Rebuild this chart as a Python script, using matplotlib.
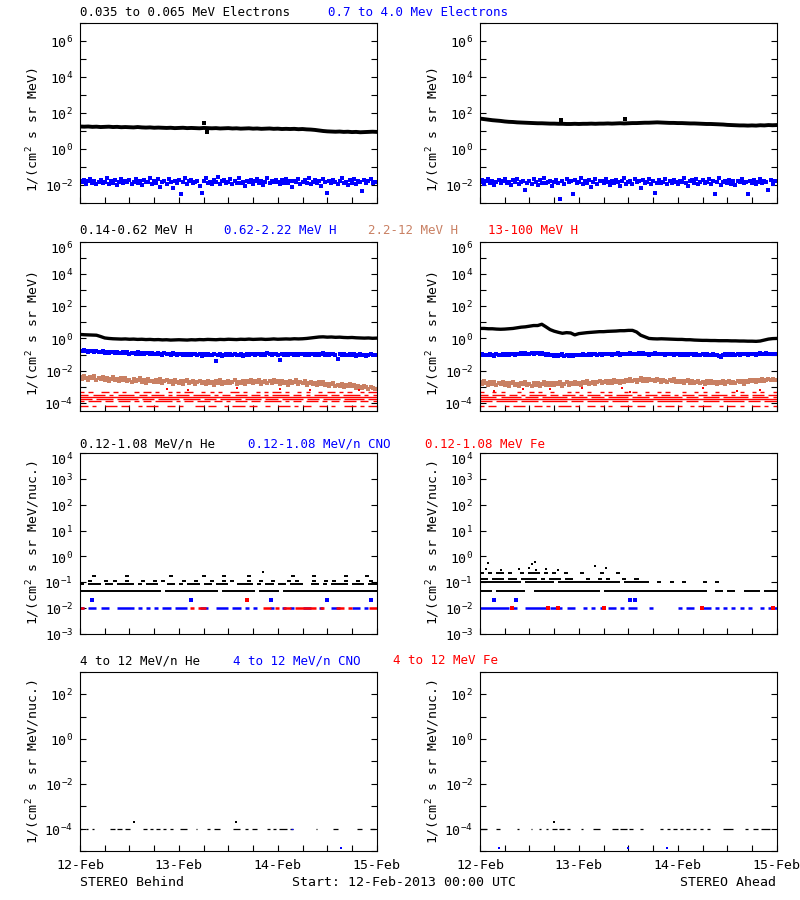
import numpy as np
import matplotlib
matplotlib.use("Agg")
import matplotlib.pyplot as plt
from matplotlib.ticker import FixedLocator, NullFormatter, NullLocator
from matplotlib.transforms import blended_transform_factory, offset_copy

# ── data (time in hours from 12-Feb-2013 00:00, fluxes as log10) ─────────────

DAY_LABELS = ["12-Feb", "13-Feb", "14-Feb", "15-Feb"]

# row 1: electrons, hourly low-energy line
B_ELO = [1.25, 1.24, 1.25, 1.23, 1.24, 1.22, 1.23, 1.24, 1.22, 1.23, 1.21, 1.22, 1.21, 1.20, 1.22,
         1.20, 1.19, 1.20, 1.18, 1.19, 1.18, 1.17, 1.18, 1.16, 1.17, 1.18, 1.16, 1.17, 1.16, 1.15,
         1.17, 1.16, 1.15, 1.16, 1.14, 1.15, 1.16, 1.14, 1.15, 1.13, 1.14, 1.15, 1.13, 1.14, 1.12,
         1.13, 1.14, 1.12, 1.13, 1.11, 1.12, 1.11, 1.12, 1.10, 1.11, 1.09, 1.08, 1.06, 1.03, 1.00,
         0.98, 0.97, 0.96, 0.97, 0.95, 0.96, 0.94, 0.95, 0.93, 0.94, 0.95, 0.96, 0.95]
A_ELO = [1.69, 1.66, 1.63, 1.60, 1.58, 1.56, 1.53, 1.51, 1.50, 1.48, 1.47, 1.46, 1.45, 1.44, 1.43,
         1.43, 1.42, 1.41, 1.41, 1.40, 1.40, 1.39, 1.39, 1.40, 1.39, 1.40, 1.40, 1.41, 1.40, 1.41,
         1.41, 1.42, 1.41, 1.42, 1.43, 1.42, 1.43, 1.44, 1.44, 1.45, 1.46, 1.46, 1.47, 1.48, 1.47,
         1.46, 1.45, 1.45, 1.44, 1.44, 1.43, 1.42, 1.42, 1.41, 1.40, 1.39, 1.39, 1.38, 1.37, 1.36,
         1.34, 1.33, 1.32, 1.31, 1.31, 1.30, 1.31, 1.30, 1.32, 1.31, 1.33, 1.32, 1.33]
B_ELO_SPIKES = [(30.1, 1.44), (30.7, 0.95)]
A_ELO_SPIKES = [(19.7, 1.59), (35.2, 1.67)]

# row 1: high-energy electrons, half-hourly samples
B_EHI = [-1.78, -1.86, -1.71, -1.92, -1.80, -1.66, -1.88, -1.75, -1.97, -1.82, -1.70, -1.90,
         -1.84, -1.62, -1.93, -1.79, -1.87, -1.73, -2.02, -1.81, -1.68, -1.91, -1.77, -1.85,
         -1.74, -1.95, -1.83, -1.64, -1.89, -1.79, -1.99, -1.72, -1.86, -1.81, -1.60, -1.94,
         -1.80, -1.88, -1.69, -2.10, -1.83, -1.76, -1.92, -1.67, -1.85, -2.18, -1.78, -1.90,
         -1.73, -2.48, -1.86, -1.61, -1.95, -1.80, -1.70, -1.91, -1.84, -1.75, -2.05, -2.44,
         -1.79, -1.63, -1.88, -1.82, -1.97, -1.71, -1.86, -1.58, -1.92, -1.80, -1.74, -1.89,
         -1.83, -1.69, -1.96, -1.78, -1.87, -1.62, -1.90, -1.81, -2.08, -1.75, -1.85, -1.72,
         -1.93, -1.80, -1.66, -1.88, -1.77, -1.99, -1.84, -1.59, -1.91, -1.79, -1.86, -1.70,
         -1.82, -1.95, -1.73, -1.87, -1.64, -1.90, -1.80, -2.12, -1.76, -1.85, -1.68, -1.93,
         -1.81, -1.72, -1.89, -1.60, -1.96, -1.83, -1.74, -1.88, -1.79, -2.03, -1.67, -1.86,
         -2.46, -1.78, -1.91, -1.70, -1.84, -1.97, -1.76, -1.63, -1.89, -1.82, -2.00, -1.74,
         -1.87, -1.69, -1.93, -1.80, -1.85, -2.36, -1.72, -1.90, -1.78, -1.64, -1.88, -1.81]
A_EHI = [-1.85, -1.72, -1.93, -1.80, -1.66, -1.89, -1.77, -1.98, -1.83, -1.70, -1.91, -1.79,
         -1.64, -1.88, -1.81, -2.00, -1.74, -1.86, -1.69, -1.94, -1.82, -1.76, -2.30, -1.87,
         -1.78, -1.92, -1.67, -1.84, -1.99, -1.73, -1.88, -1.60, -1.90, -1.81, -1.75, -2.06,
         -1.83, -1.70, -1.89, -2.78, -1.79, -1.95, -1.68, -1.86, -1.80, -2.48, -1.72, -1.91,
         -1.85, -1.63, -1.97, -1.78, -1.87, -1.74, -2.10, -1.82, -1.69, -1.93, -1.80, -1.76,
         -1.90, -1.65, -1.84, -1.99, -1.77, -1.88, -1.71, -1.83, -2.04, -1.79, -1.62, -1.92,
         -1.81, -1.75, -1.94, -1.68, -1.86, -1.80, -2.15, -1.73, -1.89, -1.84, -1.66, -1.95,
         -1.79, -2.42, -1.87, -1.72, -1.91, -1.82, -1.64, -1.97, -1.78, -1.88, -1.70, -1.85,
         -1.93, -1.76, -1.83, -1.61, -1.90, -2.08, -1.80, -1.74, -1.87, -1.69, -1.95, -1.81,
         -1.72, -1.89, -1.84, -1.67, -1.92, -1.79, -2.50, -1.86, -1.62, -1.98, -1.82, -1.75,
         -1.88, -1.71, -1.94, -1.80, -2.02, -1.76, -1.85, -1.66, -1.91, -1.83, -2.49, -1.78,
         -1.87, -1.70, -1.93, -1.81, -1.64, -1.90, -1.77, -1.86, -2.28, -1.73, -1.95, -1.80]

# row 2: protons, hourly 0.14-0.62 MeV line
B_H1 = [0.25, 0.23, 0.22, 0.21, 0.20, 0.12, 0.03, 0.00, -0.02, -0.03, -0.04, -0.03, -0.05, -0.04,
        -0.06, -0.05, -0.07, -0.06, -0.08, -0.07, -0.09, -0.08, -0.10, -0.09, -0.08, -0.09, -0.10,
        -0.08, -0.09, -0.07, -0.08, -0.06, -0.07, -0.08, -0.06, -0.07, -0.05, -0.06, -0.07, -0.05,
        -0.06, -0.04, -0.06, -0.05, -0.04, -0.06, -0.05, -0.03, -0.05, -0.04, -0.03, -0.04, -0.02,
        -0.03, -0.02, 0.00, 0.03, 0.06, 0.09, 0.10, 0.08, 0.09, 0.07, 0.08, 0.06, 0.05, 0.06, 0.04,
        0.03, 0.02, 0.03, 0.01, 0.02]
A_H1 = [0.62, 0.62, 0.60, 0.60, 0.58, 0.57, 0.58, 0.60, 0.62, 0.66, 0.70, 0.72, 0.76, 0.80, 0.80,
        0.88, 0.72, 0.55, 0.45, 0.38, 0.32, 0.36, 0.34, 0.22, 0.30, 0.33, 0.36, 0.38, 0.40, 0.42,
        0.42, 0.44, 0.45, 0.46, 0.48, 0.48, 0.50, 0.50, 0.40, 0.20, 0.10, 0.00, -0.02, -0.03, -0.02,
        -0.03, -0.04, -0.05, -0.06, -0.06, -0.08, -0.08, -0.10, -0.11, -0.12, -0.12, -0.13, -0.13,
        -0.14, -0.14, -0.14, -0.15, -0.15, -0.16, -0.16, -0.17, -0.17, -0.18, -0.16, -0.10, -0.04,
        -0.01, 0.00]

# row 2: 0.62-2.22 MeV H, half-hourly
B_H2 = [-0.76, -0.80, -0.73, -0.78, -0.82, -0.75, -0.79, -0.84, -0.77, -0.81, -0.86, -0.80,
        -0.88, -0.83, -0.91, -0.86, -0.82, -0.90, -0.85, -0.93, -0.88, -0.84, -0.91, -0.87,
        -0.95, -0.89, -0.92, -0.98, -0.87, -0.94, -0.90, -0.97, -0.93, -0.88, -0.96, -0.92,
        -0.99, -0.94, -0.91, -0.97, -1.02, -0.93, -0.98, -0.95, -1.01, -0.92, -0.97, -1.04,
        -0.96, -0.99, -1.03, -0.94, -1.00, -0.97, -1.05, -0.98, -0.95, -1.02, -0.99, -1.06,
        -0.97, -1.01, -0.95, -1.04, -1.00, -0.98, -1.42, -1.03, -0.96, -1.07, -1.00, -0.97,
        -1.02, -0.99, -1.05, -0.96, -1.01, -1.04, -0.98, -1.06, -1.00, -0.95, -1.03, -0.99,
        -0.96, -1.01, -0.94, -0.99, -1.03, -0.97, -1.00, -0.93, -0.98, -1.02, -0.95, -0.99,
        -1.04, -1.31, -0.97, -1.00, -0.94, -1.02, -0.98, -0.95, -1.01, -0.96, -1.03, -0.99,
        -0.95, -1.00, -0.97, -1.03, -0.94, -0.99, -1.01, -0.96, -1.04, -0.98, -0.93, -1.00,
        -0.97, -1.02, -0.99, -0.95, -1.03, -1.25, -0.98, -1.01, -0.96, -1.04, -1.00, -0.97,
        -1.03, -0.99, -1.06, -1.01, -0.97, -1.04, -1.00, -1.07, -1.02, -0.98, -1.05, -1.01]
A_H2 = [-1.02, -0.98, -1.05, -1.00, -1.04, -0.97, -1.03, -1.07, -0.99, -1.02, -1.05, -0.98,
        -1.01, -0.96, -1.03, -0.99, -0.94, -1.00, -0.95, -0.98, -0.92, -0.97, -0.93, -0.99,
        -0.94, -0.90, -0.96, -0.88, -0.93, -0.97, -0.91, -0.99, -1.02, -0.96, -1.04, -1.00,
        -1.06, -1.01, -1.08, -1.03, -0.99, -1.07, -1.04, -1.10, -1.02, -1.06, -1.00, -1.05,
        -1.01, -1.04, -0.98, -1.03, -1.00, -0.96, -1.02, -0.99, -0.95, -1.01, -0.97, -1.00,
        -0.96, -0.99, -0.94, -0.98, -1.01, -0.95, -0.97, -0.93, -1.00, -0.96, -0.94, -0.98,
        -0.95, -0.91, -0.97, -0.94, -0.99, -0.93, -0.96, -0.92, -0.98, -0.95, -1.00, -0.94,
        -0.97, -0.93, -0.99, -0.95, -0.98, -0.94, -1.00, -0.96, -0.99, -0.95, -1.01, -0.97,
        -0.98, -1.02, -0.96, -1.00, -0.97, -1.03, -0.99, -0.95, -1.01, -0.98, -1.04, -1.00,
        -0.97, -1.02, -0.99, -1.05, -1.01, -0.98, -1.03, -1.00, -1.06, -1.18, -1.02, -0.99,
        -1.03, -0.98, -1.01, -0.96, -1.00, -0.97, -1.02, -0.95, -0.99, -0.96, -1.00, -0.94,
        -0.98, -0.95, -1.00, -0.96, -0.93, -0.99, -0.95, -0.92, -0.97, -0.94, -0.98, -0.95]

# row 2: 2.2-12 MeV H, half-hourly
B_H3 = [-2.38, -2.50, -2.33, -2.46, -2.55, -2.40, -2.48, -2.36, -2.58, -2.44, -2.52, -2.39,
        -2.57, -2.45, -2.62, -2.49, -2.41, -2.60, -2.52, -2.67, -2.47, -2.56, -2.43, -2.63,
        -2.55, -2.70, -2.51, -2.64, -2.58, -2.46, -2.68, -2.59, -2.74, -2.53, -2.66, -2.61,
        -2.72, -2.57, -2.69, -2.50, -2.76, -2.63, -2.58, -2.71, -2.65, -2.80, -2.60, -2.68,
        -2.75, -2.62, -2.82, -2.67, -2.58, -2.78, -2.70, -2.64, -2.85, -2.72, -2.61, -2.79,
        -2.68, -2.83, -2.63, -2.76, -2.71, -2.87, -2.66, -2.74, -2.59, -2.81, -2.69, -2.77,
        -2.64, -2.79, -2.72, -2.60, -2.84, -2.70, -2.75, -2.62, -2.80, -2.67, -2.73, -2.58,
        -2.78, -2.65, -2.71, -2.56, -2.82, -2.68, -2.61, -2.75, -2.66, -2.79, -2.59, -2.72,
        -2.67, -2.81, -2.63, -2.74, -2.70, -2.86, -2.65, -2.77, -2.72, -2.60, -2.83, -2.71,
        -2.79, -2.66, -2.88, -2.74, -2.69, -2.85, -2.76, -2.91, -2.73, -2.82, -2.70, -2.87,
        -2.80, -2.95, -2.84, -2.77, -2.98, -2.86, -2.92, -2.81, -3.01, -2.89, -2.95, -2.84,
        -2.97, -2.90, -3.05, -2.93, -2.99, -3.10, -2.96, -3.04, -3.12, -3.00, -3.08, -3.14]
A_H3 = [-2.70, -2.82, -2.66, -2.77, -2.86, -2.72, -2.80, -2.68, -2.89, -2.75, -2.83, -2.71,
        -2.87, -2.74, -2.92, -2.79, -2.69, -2.88, -2.81, -2.95, -2.76, -2.85, -2.72, -2.90,
        -2.83, -2.97, -2.78, -2.88, -2.74, -2.93, -2.84, -2.70, -2.90, -2.79, -2.86, -2.75,
        -2.89, -2.77, -2.84, -2.70, -2.92, -2.80, -2.73, -2.87, -2.76, -2.83, -2.68, -2.81,
        -2.74, -2.86, -2.71, -2.79, -2.66, -2.83, -2.75, -2.69, -2.85, -2.72, -2.64, -2.78,
        -2.70, -2.62, -2.79, -2.67, -2.74, -2.59, -2.72, -2.65, -2.77, -2.61, -2.69, -2.56,
        -2.66, -2.52, -2.63, -2.58, -2.70, -2.55, -2.47, -2.61, -2.53, -2.66, -2.50, -2.58,
        -2.55, -2.64, -2.51, -2.60, -2.68, -2.57, -2.63, -2.72, -2.59, -2.66, -2.54, -2.70,
        -2.64, -2.73, -2.61, -2.77, -2.67, -2.58, -2.74, -2.65, -2.79, -2.69, -2.62, -2.76,
        -2.70, -2.81, -2.66, -2.75, -2.62, -2.78, -2.71, -2.84, -2.68, -2.74, -2.63, -2.80,
        -2.72, -2.65, -2.79, -2.69, -2.76, -2.61, -2.73, -2.67, -2.80, -2.64, -2.71, -2.58,
        -2.66, -2.55, -2.70, -2.59, -2.63, -2.51, -2.62, -2.56, -2.49, -2.60, -2.53, -2.57]

# row 2: 13-100 MeV H sits on a few count levels; '#' = hour with data at that level
RED_H_LEVELS = [6.8e-5, 1.3e-4, 1.7e-4, 2.35e-4, 3.3e-4, 4.6e-4]
B_H4 = ["##.#..###.##..#.###..##.#...##.##..#.###.##..#..###.#.##..##.#..###.#.##",
        "#.###.##.###.#.##.####.#.##.###.##.#.###.##.####.#.##.###.#.##.###.##.#",
        "###.####.#####.###.#####.####.###.#####.####.###.#####.###.####.#####.##",
        "########################################################################",
        "##.###.#.####.##.###.#.###.####.#.##.###.##.#.####.##.#.###.##.####.#.#",
        "#.#..##.#.#..#.##.#..#.#.##..#.#.#..##.#..#.#.##.#..#.#..#.##.#.#..#.##"]
A_H4 = ["#.##..#.###..##.#..###.#..##.#.#..###.##...#.##.#..#.###..#.##.#..##.#.#",
        "###.#####.####.######.###.#####.####.#####.######.###.####.#####.###.###",
        "########################################################################",
        "####.#####.###.######.####.###.#####.####.#######.###.####.######.####.#",
        "##.###.##.#.####.##.###.#.###.##.####.#.###.##.#.###.##.####.#.##.###.##",
        "#..#.#...#..#.#..#...#.#..#..#.#...#.#..#..#.#...#..#.#..#...#.#..#.#..#"]
B_H4_SCATTER = [(21.0, -3.13), (26.3, -3.20), (38.0, -3.05), (48.6, -3.13), (55.7, -3.20), (67.8, -3.22)]
A_H4_SCATTER = [(3.5, -3.28), (10.5, -3.15), (16.9, -3.15), (24.7, -3.10), (34.5, -3.10),
                (36.5, -3.30), (54.0, -3.10), (62.3, -3.25), (68.0, -3.20)]

# row 3: 0.12-1.08 MeV/n ions on count levels
HE_LEVELS_B = [0.048, 0.087, 0.117, 0.18]
HE_LO_B = ["####################.#############.########.#####.#######################",
           "#.###.##.####.#.###..##.#.###.##.###..####.#.##.##.###..##.#.####.###.##",
           "..#...#.#..#...#..#.#....#..#...#..#.#...#..#..#...#.#...#..#.#..#..#..#.",
           "...#.......#..........#.......#....#.....#..........#....#.......#....#.."]
HE_LEVELS_A = [0.048, 0.1, 0.14, 0.22]
HE_LO_A = ["###.#######..################.#########################..##.##..####.###",
           "##########.#######.###############.######..#..#..#....#..#..............",
           "##.###.##.####.#.###.##...#..#.#...#..#..................................",
           "#.#.##.#..#.###.#.#..#...#....#...#......................................."]
HE_LO_B_PTS = [(44.3, 0.25)]
HE_LO_A_PTS = [(1.5, 0.33), (5.0, 0.31), (9.5, 0.34), (12.0, 0.36), (13.5, 0.30), (16.0, 0.33),
               (19.0, 0.31), (30.5, 0.36), (2.0, 0.55), (12.6, 0.50), (13.4, 0.60), (28.0, 0.42)]
CNO_LO_B = "#.##.##..####.#.#.#.##.###...##..###.##.#.#...#..#.#..##..#..##...##.#.."
CNO_LO_A = "#######.#..#####.###.##..#.#.#.##.#.##...#......#.##..##.#.#.#.#.#..#.##"
FE_LO_B = "#..........................#.##..............##.#.##.#####.#...##.#....##"
FE_LO_A_PTS = [7.7, 16.6, 19.0, 30.0, 53.8, 71.2]
CNO_LO_B_HI = [3.0, 27.0, 46.4, 60.0, 70.7]
CNO_LO_A_HI = [3.3, 8.8, 36.3, 37.5]
FE_LO_B_HI = [40.5]

# row 4: 4-12 MeV/n ions, dashes at the 1e-4 floor (start, end hours)
HE_HI_B = [(0, 0.4), (1.5, 1.9), (3, 3.4), (7.3, 8.5), (9, 10.3), (11, 12.1), (15.3, 16.2),
           (17, 17.6), (18.5, 19.4), (20.2, 20.8), (21.8, 22.6), (24.3, 25.9), (28.1, 28.5),
           (30.7, 31.5), (32.5, 34), (37.2, 38.8), (40, 40.8), (41.8, 42.9), (45.3, 46),
           (46.8, 47.6), (48.4, 50.2), (51, 51.7), (57.2, 57.6), (61.4, 62.6), (67.1, 68.4),
           (70.4, 71.6)]
HE_HI_A = [(0, 1.6), (4, 4.9), (9.1, 9.5), (12.3, 12.7), (14.4, 14.8), (16, 16.4), (17.4, 18.6),
           (19.2, 20.4), (21, 21.8), (24.5, 24.9), (27.5, 29.1), (32, 33.4), (34, 35.6),
           (36.2, 37.2), (38.8, 39.6), (43.7, 44.5), (45.3, 46.1), (46.9, 47.7), (48.5, 49.3),
           (50.1, 50.9), (51.7, 52.5), (53.3, 54.1), (55, 55.8), (59, 61.5), (64.3, 65.1),
           (66.3, 67.5), (68.2, 70.4)]
HE_HI_B_2X = [13.1, 37.9]
HE_HI_A_2X = [18.0]
CNO_HI_B_SEG = [(51.2, 51.8)]
CNO_HI_B_LOW = [63.3]
CNO_HI_A_LOW = [4.6, 36.0, 45.5]

# ── style ─────────────────────────────────────────────────────────────────────

plt.rcParams["font.family"] = "DejaVu Sans Mono"
plt.rcParams["mathtext.fontset"] = "custom"
plt.rcParams["mathtext.rm"] = "DejaVu Sans Mono"
plt.rcParams["mathtext.it"] = "DejaVu Sans Mono"
plt.rcParams["font.size"] = 9

BLUE, RED, BROWN = "#0000ff", "#ff0000", "#c98063"
W, H = 800, 900


def px_box(x0, y0, x1, y1):
    return [x0 / W, 1 - y1 / H, (x1 - x0) / W, (y1 - y0) / H]


def draw_line(ax, vals, color, lw):
    t = np.arange(len(vals))
    ax.plot(t, 10.0 ** np.array(vals), "-", color=color, lw=lw)


def draw_band(ax, vals, color, ms=2.3):
    t = np.arange(len(vals)) * 72.0 / len(vals)
    ax.plot(t, 10.0 ** np.array(vals), "s", color=color, ms=ms, mew=0)


def draw_levels(ax, level, pattern, color, lw):
    step = 72.0 / len(pattern)
    i = 0
    while i < len(pattern):
        if pattern[i] == "#":
            j = i
            while j < len(pattern) and pattern[j] == "#":
                j += 1
            ax.hlines(level, i * step, j * step, color=color, lw=lw)
            i = j
        else:
            i += 1


def draw_pts(ax, pts, color, ms=1.8, log=True):
    t = [p[0] for p in pts]
    v = [10.0 ** p[1] if log else p[1] for p in pts]
    ax.plot(t, v, "s", color=color, ms=ms, mew=0)


def setup(ax, lo, hi, label_step, bottom_labels):
    ax.set_yscale("log")
    ax.set_ylim(10.0 ** lo, 10.0 ** hi)
    ax.set_xlim(0, 72)
    exps = list(range(int(np.ceil(lo)), int(np.floor(hi)) + 1))
    ax.yaxis.set_major_locator(FixedLocator([10.0 ** e for e in exps]))
    ax.yaxis.set_minor_locator(NullLocator())
    ax.yaxis.set_major_formatter(NullFormatter())
    ax.tick_params(axis="y", which="both", direction="in", left=True, right=True,
                   length=4.5, width=0.8)
    # y tick labels drawn by hand so the "10" sits on the tick, like the IDL plot
    base = blended_transform_factory(ax.transAxes, ax.transData)
    for e in exps:
        if e % label_step:
            continue
        dy = -5.0 if e == hi else -1.5
        tr = offset_copy(base, fig=fig, x=-5.0, y=dy, units="points")
        ax.text(0, 10.0 ** e, f"10$^{{{e}}}$", transform=tr, ha="right", va="center",
                fontsize=9.5)
    ax.set_xticks(np.arange(0, 73, 6))
    ax.xaxis.set_minor_locator(NullLocator())
    ax.tick_params(axis="x", direction="in", bottom=True, top=False, length=4.5,
                   width=0.8, labelsize=9.5, pad=6)
    if bottom_labels:
        ax.set_xticklabels([DAY_LABELS[i // 4] if i % 4 == 0 else "" for i in range(13)])
    else:
        ax.set_xticklabels([])
    for s in ax.spines.values():
        s.set_linewidth(0.8)


fig = plt.figure(figsize=(W / 100, H / 100), dpi=100)

ROWS = [(23, 203), (241.7, 411), (453, 634), (671.7, 851)]
COLS = [(80, 376.7), (480, 776.7)]
axes = [[fig.add_axes(px_box(c[0], r[0], c[1], r[1])) for c in COLS] for r in ROWS]

# ── row 1: electrons ──────────────────────────────────────────────────────────

for ax, lo_e, hi_e, spikes in [(axes[0][0], B_ELO, B_EHI, B_ELO_SPIKES),
                               (axes[0][1], A_ELO, A_EHI, A_ELO_SPIKES)]:
    setup(ax, -3, 7, 2, False)
    draw_band(ax, hi_e, BLUE, 2.4)
    draw_line(ax, lo_e, "black", 2.8)
    draw_pts(ax, spikes, "black", 2.2)

# ── row 2: protons ────────────────────────────────────────────────────────────

for ax, h1, h2, h3, h4, sc in [(axes[1][0], B_H1, B_H2, B_H3, B_H4, B_H4_SCATTER),
                               (axes[1][1], A_H1, A_H2, A_H3, A_H4, A_H4_SCATTER)]:
    setup(ax, -4.5, 6, 2, False)
    for lev, pat in zip(RED_H_LEVELS, h4):
        draw_levels(ax, lev, pat, RED, 1.0)
    draw_pts(ax, sc, RED, 1.8)
    draw_band(ax, h3, BROWN, 2.4)
    draw_band(ax, h2, BLUE, 2.4)
    draw_line(ax, h1, "black", 2.4)

# ── row 3: low-energy heavy ions ──────────────────────────────────────────────

ax = axes[2][0]
setup(ax, -3, 4, 1, False)
for lev, pat in zip(HE_LEVELS_B, HE_LO_B):
    draw_levels(ax, lev, pat, "black", 1.4)
draw_pts(ax, HE_LO_B_PTS, "black", 2.0, log=False)
draw_levels(ax, 0.01, CNO_LO_B, BLUE, 1.8)
draw_levels(ax, 0.01, FE_LO_B, RED, 1.8)
draw_pts(ax, [(t, 0.021) for t in CNO_LO_B_HI], BLUE, 2.2, log=False)
draw_pts(ax, [(t, 0.021) for t in FE_LO_B_HI], RED, 2.2, log=False)

ax = axes[2][1]
setup(ax, -3, 4, 1, False)
for lev, pat in zip(HE_LEVELS_A, HE_LO_A):
    draw_levels(ax, lev, pat, "black", 1.4)
draw_pts(ax, HE_LO_A_PTS, "black", 2.0, log=False)
draw_levels(ax, 0.01, CNO_LO_A, BLUE, 1.8)
draw_pts(ax, [(t, 0.01) for t in FE_LO_A_PTS], RED, 2.4, log=False)
draw_pts(ax, [(t, 0.021) for t in CNO_LO_A_HI], BLUE, 2.2, log=False)

# ── row 4: high-energy heavy ions ─────────────────────────────────────────────

ax = axes[3][0]
setup(ax, -5, 3, 2, True)
for s, e in HE_HI_B:
    ax.hlines(1e-4, s, e, color="black", lw=0.9)
for s, e in CNO_HI_B_SEG:
    ax.hlines(1e-4, s, e, color=BLUE, lw=0.9)
draw_pts(ax, [(t, 2e-4) for t in HE_HI_B_2X], "black", 1.8, log=False)
draw_pts(ax, [(t, 1.3e-5) for t in CNO_HI_B_LOW], BLUE, 1.8, log=False)

ax = axes[3][1]
setup(ax, -5, 3, 2, True)
for s, e in HE_HI_A:
    ax.hlines(1e-4, s, e, color="black", lw=0.9)
draw_pts(ax, [(t, 2e-4) for t in HE_HI_A_2X], "black", 1.8, log=False)
draw_pts(ax, [(t, 1.3e-5) for t in CNO_HI_A_LOW], BLUE, 1.8, log=False)

# ── text ──────────────────────────────────────────────────────────────────────

TITLES = [
    (13, [("0.035 to 0.065 MeV Electrons", 80, "black"), ("0.7 to 4.0 Mev Electrons", 328, BLUE)]),
    (230, [("0.14-0.62 MeV H", 80, "black"), ("0.62-2.22 MeV H", 224, BLUE),
           ("2.2-12 MeV H", 368, BROWN), ("13-100 MeV H", 488, RED)]),
    (444, [("0.12-1.08 MeV/n He", 80, "black"), ("0.12-1.08 MeV/n CNO", 248, BLUE),
           ("0.12-1.08 MeV Fe", 425, RED)]),
    (661, [("4 to 12 MeV/n He", 80, "black"), ("4 to 12 MeV/n CNO", 233, BLUE),
           ("4 to 12 MeV Fe", 393, RED)]),
]
for y, parts in TITLES:
    for s, x, c in parts:
        fig.text(x / W, 1 - y / H, s, color=c, ha="left", va="center", fontsize=9)

YLABELS = [(129, "1/(cm$^2$ s sr MeV)"), (333, "1/(cm$^2$ s sr MeV)"),
           (543, "1/(cm$^2$ s sr MeV/nuc.)"), (762, "1/(cm$^2$ s sr MeV/nuc.)")]
for y, s in YLABELS:
    for x in (33, 433):
        fig.text(x / W, 1 - y / H, s, rotation=90, ha="center", va="center", fontsize=9.5)

fig.text(80 / W, 1 - 882 / H, "STEREO Behind", ha="left", va="center", fontsize=9.5)
fig.text(292 / W, 1 - 882 / H, "Start: 12-Feb-2013 00:00 UTC", ha="left", va="center", fontsize=9.5)
fig.text(776 / W, 1 - 882 / H, "STEREO Ahead", ha="right", va="center", fontsize=9.5)

fig.savefig("out.png", dpi=100, facecolor="white")
